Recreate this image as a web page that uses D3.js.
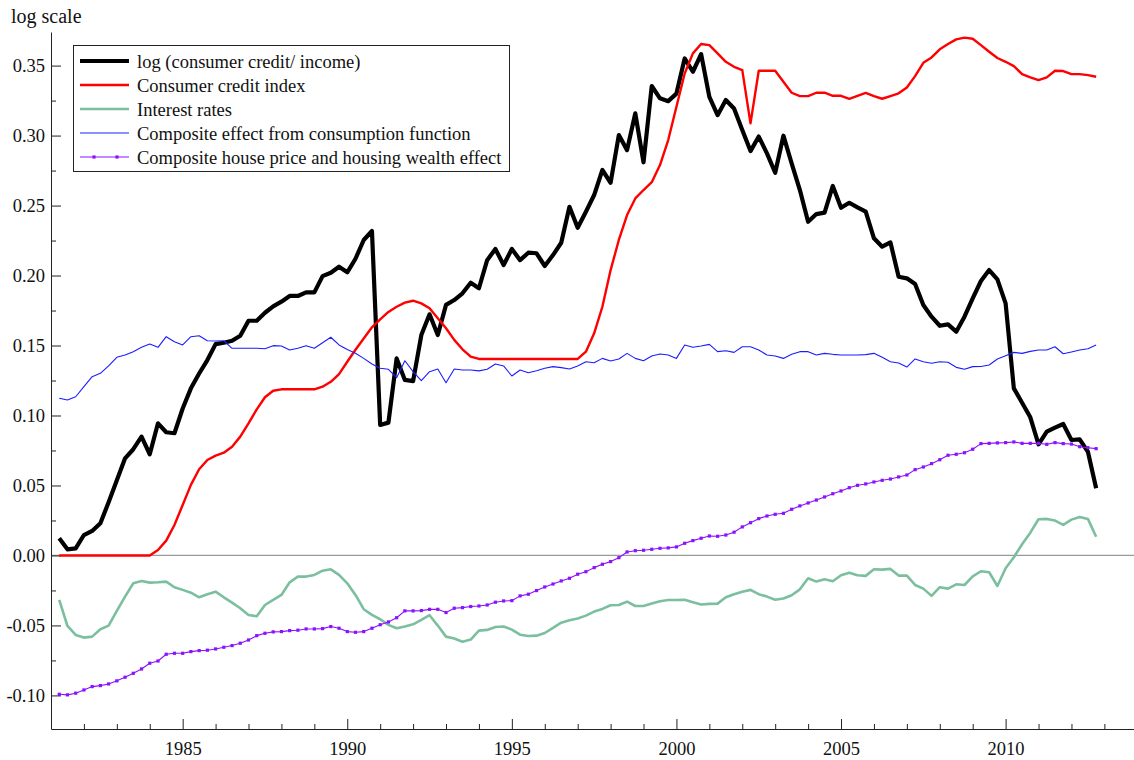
<!DOCTYPE html>
<html>
<head>
<meta charset="utf-8">
<script src="https://cdn.jsdelivr.net/npm/d3@7"></script>
<style>
  html, body { margin: 0; padding: 0; background: #fff; }
  svg text { font-family: "Liberation Serif", "Times New Roman", serif; fill: #111; }
</style>
</head>
<body>
<svg id="chart" width="1134" height="760"></svg>
<script>
// Quarterly observations, 1981Q2 .. 2012Q4 (plotted at fractional years)
const firstQuarter = 1981.25;
const nQuarters = 127;
const quarters = d3.range(nQuarters).map(i => firstQuarter + i / 4);

const creditIncome = [
  0.0123, 0.0044, 0.0050, 0.0146, 0.0175, 0.0230, 0.0380, 0.0537, 0.0694, 0.0759,
  0.0849, 0.0723, 0.0944, 0.0880, 0.0873, 0.1050, 0.1194, 0.1300, 0.1396, 0.1510,
  0.1520, 0.1534, 0.1570, 0.1677, 0.1677, 0.1734, 0.1780, 0.1813, 0.1854, 0.1854,
  0.1880, 0.1880, 0.1996, 0.2020, 0.2063, 0.2023, 0.2120, 0.2254, 0.2318, 0.0932,
  0.0949, 0.1408, 0.1254, 0.1246, 0.1575, 0.1723, 0.1575, 0.1790, 0.1825, 0.1873,
  0.1949, 0.1909, 0.2110, 0.2190, 0.2075, 0.2190, 0.2110, 0.2163, 0.2159, 0.2068,
  0.2146, 0.2234, 0.2491, 0.2341, 0.2456, 0.2575, 0.2754, 0.2663, 0.3004, 0.2896,
  0.3159, 0.2809, 0.3354, 0.3266, 0.3246, 0.3300, 0.3551, 0.3456, 0.3582, 0.3277,
  0.3146, 0.3254, 0.3194, 0.3039, 0.2889, 0.2993, 0.2873, 0.2734, 0.2999, 0.2801,
  0.2611, 0.2384, 0.2439, 0.2449, 0.2640, 0.2484, 0.2520, 0.2487, 0.2456, 0.2266,
  0.2206, 0.2237, 0.1991, 0.1980, 0.1939, 0.1789, 0.1706, 0.1641, 0.1651, 0.1599,
  0.1706, 0.1837, 0.1961, 0.2039, 0.1973, 0.1801, 0.1194, 0.1091, 0.0987, 0.0794,
  0.0884, 0.0913, 0.0939, 0.0825, 0.0830, 0.0741, 0.0480
];

const creditIndex = [
  0, 0, 0, 0, 0, 0, 0, 0, 0, 0,
  0, 0, 0.0039, 0.0106, 0.0218, 0.0361, 0.0504, 0.0616, 0.0682, 0.0713,
  0.0734, 0.0777, 0.0849, 0.0944, 0.1044, 0.1130, 0.1177, 0.1187, 0.1187, 0.1187,
  0.1187, 0.1187, 0.1206, 0.1241, 0.1296, 0.1384, 0.1470, 0.1550, 0.1630, 0.1687,
  0.1740, 0.1777, 0.1806, 0.1820, 0.1801, 0.1766, 0.1694, 0.1623, 0.1540, 0.1473,
  0.1420, 0.1404, 0.1404, 0.1404, 0.1404, 0.1404, 0.1404, 0.1404, 0.1404, 0.1404,
  0.1404, 0.1404, 0.1404, 0.1404, 0.1456, 0.1587, 0.1777, 0.2039, 0.2254, 0.2432,
  0.2551, 0.2611, 0.2667, 0.2789, 0.2968, 0.3206, 0.3444, 0.3587, 0.3654, 0.3646,
  0.3587, 0.3527, 0.3491, 0.3468, 0.3087, 0.3463, 0.3463, 0.3463, 0.3384, 0.3306,
  0.3282, 0.3282, 0.3306, 0.3306, 0.3284, 0.3284, 0.3263, 0.3284, 0.3305, 0.3282,
  0.3263, 0.3282, 0.3302, 0.3344, 0.3425, 0.3520, 0.3558, 0.3616, 0.3654, 0.3687,
  0.3700, 0.3692, 0.3646, 0.3599, 0.3554, 0.3527, 0.3496, 0.3439, 0.3416, 0.3396,
  0.3416, 0.3463, 0.3461, 0.3439, 0.3439, 0.3432, 0.3420
];

const interestRates = [
  -0.0318, -0.0504, -0.0568, -0.0587, -0.0580, -0.0527, -0.0501, -0.0396, -0.0294, -0.0199,
  -0.0182, -0.0194, -0.0192, -0.0187, -0.0227, -0.0246, -0.0266, -0.0299, -0.0277, -0.0259,
  -0.0299, -0.0337, -0.0377, -0.0425, -0.0434, -0.0354, -0.0318, -0.0282, -0.0192, -0.0151,
  -0.0151, -0.0139, -0.0109, -0.0099, -0.0139, -0.0199, -0.0282, -0.0384, -0.0425, -0.0456,
  -0.0496, -0.0520, -0.0508, -0.0492, -0.0461, -0.0427, -0.0501, -0.0580, -0.0594, -0.0616,
  -0.0601, -0.0537, -0.0532, -0.0511, -0.0508, -0.0530, -0.0566, -0.0575, -0.0573, -0.0554,
  -0.0518, -0.0480, -0.0463, -0.0451, -0.0430, -0.0401, -0.0382, -0.0356, -0.0354, -0.0330,
  -0.0361, -0.0361, -0.0344, -0.0327, -0.0318, -0.0318, -0.0316, -0.0334, -0.0351, -0.0346,
  -0.0344, -0.0299, -0.0277, -0.0259, -0.0246, -0.0277, -0.0294, -0.0316, -0.0308, -0.0284,
  -0.0242, -0.0163, -0.0187, -0.0170, -0.0184, -0.0141, -0.0123, -0.0141, -0.0146, -0.0099,
  -0.0101, -0.0096, -0.0144, -0.0144, -0.0211, -0.0237, -0.0289, -0.0227, -0.0237, -0.0206,
  -0.0211, -0.0149, -0.0113, -0.0120, -0.0218, -0.0091, -0.0013, 0.0080, 0.0163, 0.0259,
  0.0261, 0.0249, 0.0218, 0.0256, 0.0275, 0.0261, 0.0134
];

const consumptionEffect = [
  0.1123, 0.1111, 0.1134, 0.1206, 0.1277, 0.1301, 0.1354, 0.1416, 0.1432, 0.1456,
  0.1487, 0.1511, 0.1487, 0.1563, 0.1527, 0.1504, 0.1563, 0.1570, 0.1534, 0.1532,
  0.1534, 0.1480, 0.1480, 0.1480, 0.1480, 0.1477, 0.1499, 0.1496, 0.1468, 0.1480,
  0.1499, 0.1480, 0.1520, 0.1559, 0.1504, 0.1472, 0.1445, 0.1408, 0.1368, 0.1337,
  0.1330, 0.1270, 0.1391, 0.1313, 0.1249, 0.1313, 0.1332, 0.1234, 0.1332, 0.1325,
  0.1325, 0.1319, 0.1330, 0.1368, 0.1354, 0.1282, 0.1325, 0.1306, 0.1320, 0.1337,
  0.1349, 0.1342, 0.1332, 0.1354, 0.1384, 0.1377, 0.1408, 0.1389, 0.1404, 0.1444,
  0.1408, 0.1391, 0.1425, 0.1439, 0.1432, 0.1408, 0.1504, 0.1487, 0.1496, 0.1508,
  0.1456, 0.1463, 0.1451, 0.1491, 0.1491, 0.1468, 0.1432, 0.1425, 0.1408, 0.1437,
  0.1456, 0.1456, 0.1432, 0.1444, 0.1437, 0.1432, 0.1432, 0.1432, 0.1435, 0.1444,
  0.1416, 0.1384, 0.1375, 0.1346, 0.1404, 0.1384, 0.1373, 0.1384, 0.1380, 0.1344,
  0.1330, 0.1349, 0.1350, 0.1361, 0.1404, 0.1427, 0.1451, 0.1444, 0.1458, 0.1468,
  0.1468, 0.1491, 0.1441, 0.1454, 0.1468, 0.1477, 0.1504
];

const housingEffect = [
  -0.0992, -0.0996, -0.0984, -0.0961, -0.0937, -0.0930, -0.0918, -0.0896, -0.0870, -0.0842,
  -0.0811, -0.0770, -0.0754, -0.0706, -0.0699, -0.0699, -0.0687, -0.0680, -0.0677, -0.0668,
  -0.0656, -0.0644, -0.0627, -0.0604, -0.0573, -0.0556, -0.0546, -0.0544, -0.0537, -0.0534,
  -0.0525, -0.0525, -0.0523, -0.0508, -0.0520, -0.0544, -0.0549, -0.0544, -0.0520, -0.0495,
  -0.0475, -0.0445, -0.0396, -0.0396, -0.0394, -0.0385, -0.0385, -0.0408, -0.0377, -0.0373,
  -0.0365, -0.0361, -0.0354, -0.0334, -0.0325, -0.0323, -0.0289, -0.0277, -0.0251, -0.0225,
  -0.0204, -0.0182, -0.0163, -0.0134, -0.0116, -0.0087, -0.0063, -0.0044, -0.0016, 0.0025,
  0.0034, 0.0037, 0.0044, 0.0051, 0.0054, 0.0061, 0.0087, 0.0106, 0.0123, 0.0139,
  0.0137, 0.0146, 0.0166, 0.0204, 0.0234, 0.0263, 0.0282, 0.0294, 0.0301, 0.0330,
  0.0354, 0.0375, 0.0396, 0.0418, 0.0441, 0.0461, 0.0484, 0.0501, 0.0511, 0.0525,
  0.0537, 0.0546, 0.0561, 0.0575, 0.0613, 0.0632, 0.0656, 0.0684, 0.0716, 0.0723,
  0.0734, 0.0759, 0.0799, 0.0801, 0.0804, 0.0806, 0.0811, 0.0801, 0.0801, 0.0801,
  0.0794, 0.0806, 0.0799, 0.0796, 0.0777, 0.0770, 0.0763
];

const seriesNames = [
  "log (consumer credit/ income)",
  "Consumer credit index",
  "Interest rates",
  "Composite effect from consumption function",
  "Composite house price and housing wealth effect"
];

const yMajorTicks = [-0.10, -0.05, 0.00, 0.05, 0.10, 0.15, 0.20, 0.25, 0.30, 0.35];
const yMinorTicks = [-0.075, -0.025, 0.025, 0.075, 0.125, 0.175, 0.225, 0.275, 0.325];
const xMajorTicks = [1985, 1990, 1995, 2000, 2005, 2010];
const xMinorTicks = [1982, 1983, 1984, 1986, 1987, 1988, 1989, 1991, 1992, 1993, 1994,
  1996, 1997, 1998, 1999, 2001, 2002, 2003, 2004, 2006, 2007, 2008, 2009, 2011, 2012, 2013];

const series = [
  { name: seriesNames[0], values: creditIncome,      color: "#000000", width: 4.2, markers: false },
  { name: seriesNames[1], values: creditIndex,       color: "#ff0000", width: 2.4, markers: false },
  { name: seriesNames[2], values: interestRates,     color: "#7cbf9e", width: 2.6, markers: false },
  { name: seriesNames[3], values: consumptionEffect, color: "#1c1cff", width: 1.1, markers: false },
  { name: seriesNames[4], values: housingEffect,     color: "#8a12ff", width: 1.1, markers: true }
];

const fontSize = 18.5;
const svg = d3.select("#chart");
const plotLeft = 51, plotRight = 1134, plotTop = 32, plotBottom = 729;

const x = d3.scaleLinear().domain([1981, 2013.9]).range([plotLeft, plotRight]);
const y = d3.scaleLinear().domain([-0.124, 0.374]).range([plotBottom, plotTop]);

// zero reference line
svg.append("line")
  .attr("x1", plotLeft).attr("x2", plotRight)
  .attr("y1", y(0)).attr("y2", y(0))
  .attr("stroke", "#9a9a9a").attr("stroke-width", 1.2);

// axes: ticks point inward
const fmt = v => v.toFixed(2);
svg.append("g").attr("transform", `translate(${plotLeft},0)`)
  .call(d3.axisLeft(y).tickValues(yMajorTicks).tickSizeInner(-10).tickSizeOuter(0)
    .tickPadding(6).tickFormat(fmt));
svg.append("g").attr("transform", `translate(${plotLeft},0)`)
  .call(d3.axisLeft(y).tickValues(yMinorTicks).tickSizeInner(-5).tickSizeOuter(0)
    .tickFormat(""))
  .select(".domain").remove();

svg.append("g").attr("transform", `translate(0,${plotBottom})`)
  .call(d3.axisBottom(x).tickValues(xMajorTicks).tickSizeInner(-10).tickSizeOuter(0)
    .tickPadding(13).tickFormat(d3.format("d")));
svg.append("g").attr("transform", `translate(0,${plotBottom})`)
  .call(d3.axisBottom(x).tickValues(xMinorTicks).tickSizeInner(-5).tickSizeOuter(0)
    .tickFormat(""))
  .select(".domain").remove();

svg.selectAll(".domain, .tick line").attr("stroke", "#222").attr("stroke-width", 1);
svg.selectAll(".tick text").attr("font-size", fontSize).attr("fill", "#111")
  .style("font-family", '"Liberation Serif", "Times New Roman", serif');

// axis title
svg.append("text").attr("x", 11).attr("y", 23).attr("font-size", 20).text("log scale");

// series lines
const line = d3.line().x((d, i) => x(quarters[i])).y(d => y(d));
series.forEach(s => {
  svg.append("path")
    .datum(s.values)
    .attr("fill", "none")
    .attr("stroke", s.color)
    .attr("stroke-width", s.width)
    .attr("stroke-linejoin", "round")
    .attr("d", line);
  if (s.markers) {
    svg.append("g").selectAll("rect")
      .data(s.values)
      .join("rect")
      .attr("x", (d, i) => x(quarters[i]) - 1.6)
      .attr("y", d => y(d) - 1.6)
      .attr("width", 3.2).attr("height", 3.2)
      .attr("fill", s.color);
  }
});

// legend
const legend = svg.append("g");
legend.append("rect")
  .attr("x", 73.5).attr("y", 45.5).attr("width", 436).attr("height", 126)
  .attr("fill", "#fff").attr("stroke", "#222").attr("stroke-width", 1);
series.forEach((s, k) => {
  const cy = 61 + k * 24;
  legend.append("line")
    .attr("x1", 80).attr("x2", 129).attr("y1", cy).attr("y2", cy)
    .attr("stroke", s.color).attr("stroke-width", s.width);
  if (s.markers) {
    [94, 117].forEach(mx => legend.append("rect")
      .attr("x", mx - 1.6).attr("y", cy - 1.6).attr("width", 3.2).attr("height", 3.2)
      .attr("fill", s.color));
  }
  legend.append("text")
    .attr("x", 137).attr("y", cy + 6.5)
    .attr("font-size", fontSize)
    .text(s.name);
});
</script>
</body>
</html>
